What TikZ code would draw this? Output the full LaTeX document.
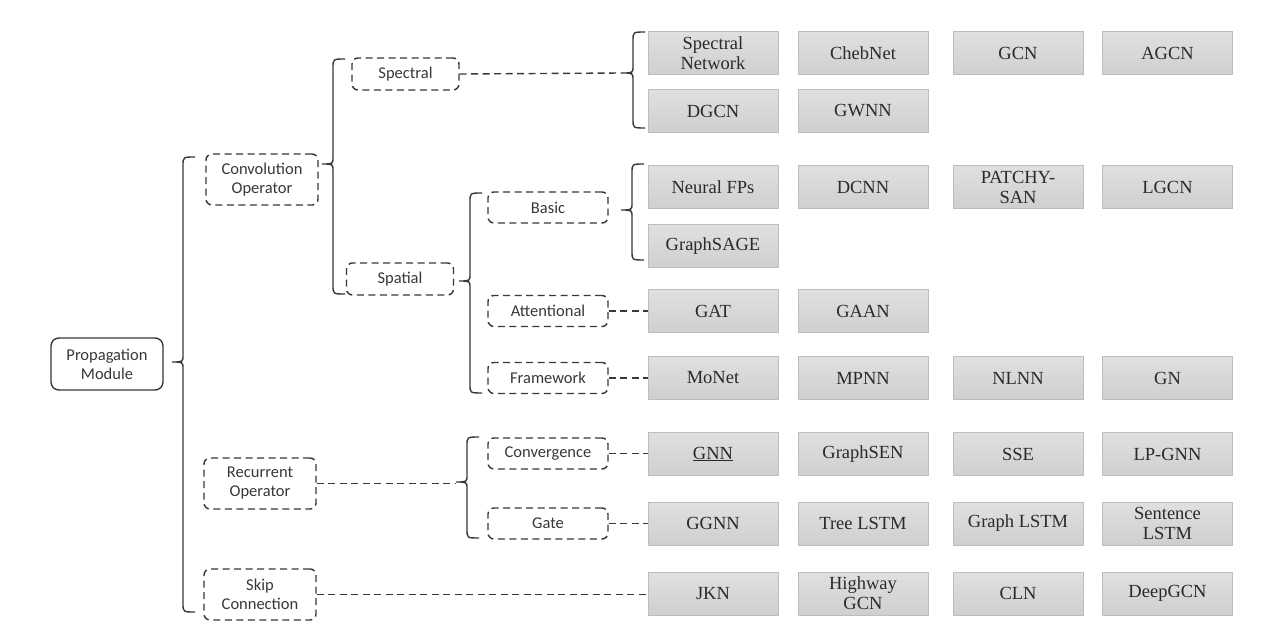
\documentclass[tikz,border=0pt]{standalone}
\usepackage{fontspec}
\setmainfont{Liberation Serif}
\newfontfamily\labelfont{Carlito}
\definecolor{ink}{HTML}{383838}
\definecolor{modeltext}{HTML}{2A2A2A}
\definecolor{boxedge}{HTML}{BDBDBD}
\definecolor{boxtop}{HTML}{E0E0E0}
\definecolor{boxbot}{HTML}{CFCFCF}
\tikzset{
  rootbox/.style={draw=ink, line width=1.4pt, rounded corners=8pt,
    minimum width=112pt, minimum height=52pt, inner sep=0pt, align=center,
    text=ink, font=\labelfont\fontsize{16.5}{19}\selectfont},
  catbox/.style={draw=ink, line width=1.4pt, dash pattern=on 7pt off 4.5pt,
    rounded corners=6pt, minimum width=112pt, minimum height=51pt,
    inner sep=0pt, align=center, text=ink,
    font=\labelfont\fontsize{16.5}{19}\selectfont},
  subbox/.style={catbox, minimum width=107pt, minimum height=32pt},
  leafbox/.style={catbox, minimum width=120pt, minimum height=31pt},
  model/.style={draw=boxedge, line width=1pt, top color=boxtop,
    bottom color=boxbot, minimum width=130pt, minimum height=43pt,
    inner sep=0pt, align=center, text=modeltext,
    font=\fontsize{18.5}{20}\selectfont},
  link/.style={draw=ink, line width=1.4pt, dash pattern=on 7pt off 4.5pt},
  bracestyle/.style={draw=ink, line width=1.4pt}
}
% curly brace: #1 name of tip coordinate, #2 x of spine, #3 top, #4 tip y, #5 bottom, #6 tip x
\newcommand\groupbrace[6]{%
  \coordinate (#1) at (#6,#4);
  \draw[bracestyle] (#2+12,#3) .. controls (#2,#3) .. (#2,#3+9)
    -- (#2,#4-7) .. controls (#2,#4) .. (#1)
    .. controls (#2,#4) .. (#2,#4+7)
    -- (#2,#5-9) .. controls (#2,#5) .. (#2+12,#5);}
\begin{document}
\begin{tikzpicture}[x=1pt,y=-1pt]
\useasboundingbox[fill=white] (0,0) rectangle (1272,636);

% root and first-level categories
\node[rootbox] (prop) at (107,364) {Propagation\\Module};
\node[catbox] (conv) at (262,179.5) {Convolution\\Operator};
\node[catbox] (rec) at (260,483.5) {Recurrent\\Operator};
\node[catbox] (skip) at (260,594.5) {Skip\\Connection};

% convolution branches
\node[subbox] (spec) at (405.5,74) {Spectral};
\node[subbox] (spat) at (400,279) {Spatial};

% third level
\node[leafbox] (basic) at (548,207.5) {Basic};
\node[leafbox] (att) at (548,311) {Attentional};
\node[leafbox] (frame) at (548,378) {Framework};
\node[leafbox] (conver) at (548,453.5) {Convergence};
\node[leafbox] (gate) at (548,523.5) {Gate};

% braces
\groupbrace{tipA}{183}{157}{362}{612}{172}
\groupbrace{tipB}{333}{59}{164}{294}{322}
\groupbrace{tipC}{633}{32}{73}{128}{622}
\groupbrace{tipD}{470}{193}{281}{393}{459}
\groupbrace{tipE}{632}{164}{210}{260}{621}
\groupbrace{tipF}{467}{437}{482}{538}{456}

% models: spectral
\node[model] (m11) at (713,53.5) {Spectral\\Network};
\node[model] (m12) at (863,53.5) {ChebNet};
\node[model] (m13) at (1018,53.5) {GCN};
\node[model] (m14) at (1167.5,53.5) {AGCN};
\node[model] (m21) at (713,111) {DGCN};
\node[model] (m22) at (863,111) {GWNN};
% models: basic spatial
\node[model] (m31) at (713,187) {Neural FPs};
\node[model] (m32) at (863,187) {DCNN};
\node[model] (m33) at (1018,187) {PATCHY-\\SAN};
\node[model] (m34) at (1167.5,187) {LGCN};
\node[model] (m41) at (713,246.5) {GraphSAGE};
% models: attentional
\node[model] (m51) at (713,311.5) {GAT};
\node[model] (m52) at (863,311.5) {GAAN};
% models: framework
\node[model] (m61) at (713,378) {MoNet};
\node[model] (m62) at (863,378) {MPNN};
\node[model] (m63) at (1018,378) {NLNN};
\node[model] (m64) at (1167.5,378) {GN};
% models: convergence
\node[model] (m71) at (713,454) {\underline{GNN}};
\node[model] (m72) at (863,454) {GraphSEN};
\node[model] (m73) at (1018,454) {SSE};
\node[model] (m74) at (1167.5,454) {LP-GNN};
% models: gate
\node[model] (m81) at (713,523.5) {GGNN};
\node[model] (m82) at (863,523.5) {Tree LSTM};
\node[model] (m83) at (1018,523.5) {Graph LSTM};
\node[model] (m84) at (1167.5,523.5) {Sentence\\LSTM};
% models: skip connection
\node[model] (m91) at (713,593.5) {JKN};
\node[model] (m92) at (863,593.5) {Highway\\GCN};
\node[model] (m93) at (1018,593.5) {CLN};
\node[model] (m94) at (1167.5,593.5) {DeepGCN};

% dashed links
\draw[link] (spec.east) -- (tipC);
\draw[link] (rec.east) -- (rec.east -| tipF);
\draw[link] (skip.east) -- (skip.east -| m91.west);
\draw[link] (att.east) -- (att.east -| m51.west);
\draw[link] (frame.east) -- (frame.east -| m61.west);
\draw[link] (conver.east) -- (conver.east -| m71.west);
\draw[link] (gate.east) -- (gate.east -| m81.west);
\end{tikzpicture}
\end{document}
